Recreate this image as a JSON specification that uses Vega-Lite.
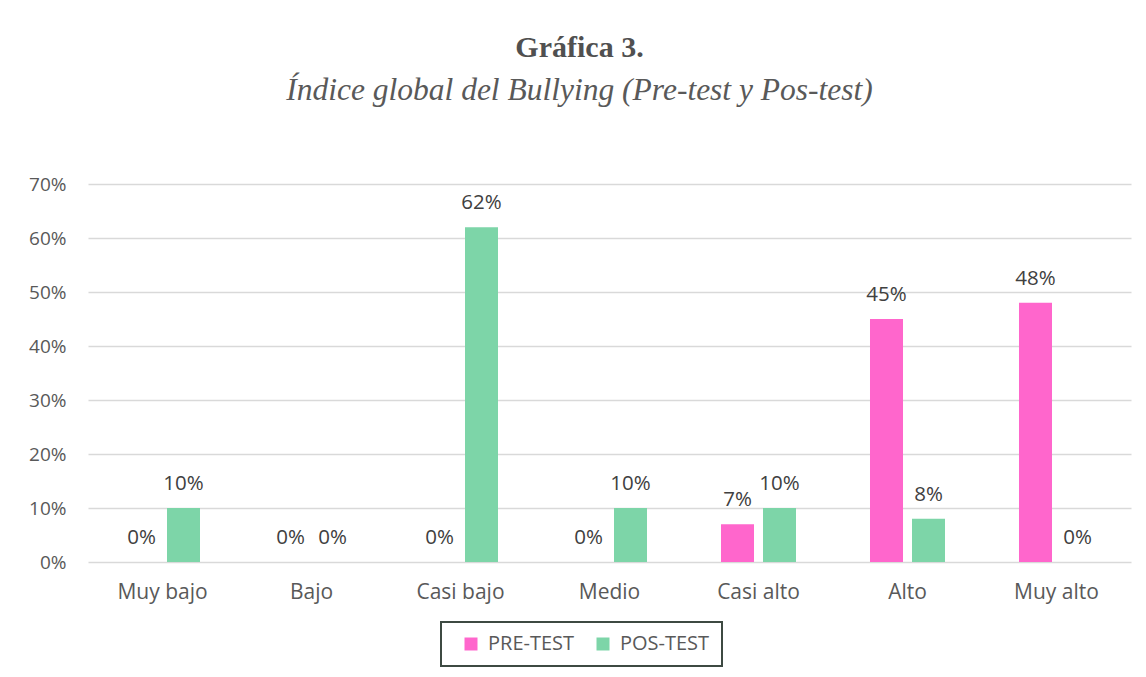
{
  "$schema": "https://vega.github.io/schema/vega-lite/v6.json",
  "width": 1043,
  "height": 378,
  "autosize": {"type": "none"},
  "padding": {"left": 88, "top": 184, "right": 15, "bottom": 115},
  "background": "white",
  "title": {
    "text": "Gráfica 3.",
    "subtitle": "Índice global del Bullying (Pre-test y Pos-test)",
    "anchor": "middle",
    "dx": -30,
    "offset": 69,
    "font": "Liberation Serif",
    "fontSize": 30,
    "fontWeight": "bold",
    "color": "#505050",
    "subtitleFont": "Liberation Serif",
    "subtitleFontSize": 31.5,
    "subtitleFontStyle": "italic",
    "subtitleColor": "#595959",
    "subtitlePadding": 12
  },
  "data": {
    "values": [
      {"categoria": "Muy bajo", "grupo": "PRE-TEST", "valor": 0},
      {"categoria": "Muy bajo", "grupo": "POS-TEST", "valor": 0.10},
      {"categoria": "Bajo", "grupo": "PRE-TEST", "valor": 0},
      {"categoria": "Bajo", "grupo": "POS-TEST", "valor": 0},
      {"categoria": "Casi bajo", "grupo": "PRE-TEST", "valor": 0},
      {"categoria": "Casi bajo", "grupo": "POS-TEST", "valor": 0.62},
      {"categoria": "Medio", "grupo": "PRE-TEST", "valor": 0},
      {"categoria": "Medio", "grupo": "POS-TEST", "valor": 0.10},
      {"categoria": "Casi alto", "grupo": "PRE-TEST", "valor": 0.07},
      {"categoria": "Casi alto", "grupo": "POS-TEST", "valor": 0.10},
      {"categoria": "Alto", "grupo": "PRE-TEST", "valor": 0.45},
      {"categoria": "Alto", "grupo": "POS-TEST", "valor": 0.08},
      {"categoria": "Muy alto", "grupo": "PRE-TEST", "valor": 0.48},
      {"categoria": "Muy alto", "grupo": "POS-TEST", "valor": 0}
    ]
  },
  "encoding": {
    "x": {
      "field": "categoria",
      "type": "nominal",
      "sort": ["Muy bajo", "Bajo", "Casi bajo", "Medio", "Casi alto", "Alto", "Muy alto"],
      "scale": {"paddingInner": 0.4966, "paddingOuter": 0.2483},
      "axis": {
        "title": null,
        "labelAngle": 0,
        "labelFont": "Open Sans",
        "labelFontSize": 21,
        "labelColor": "#595959",
        "labelPadding": 19,
        "ticks": false,
        "domain": false,
        "grid": false
      }
    },
    "xOffset": {
      "field": "grupo",
      "type": "nominal",
      "sort": ["PRE-TEST", "POS-TEST"],
      "scale": {"paddingInner": 0.2143, "paddingOuter": 0}
    },
    "y": {
      "field": "valor",
      "type": "quantitative",
      "scale": {"domain": [0, 0.7]},
      "axis": {
        "title": null,
        "format": ".0%",
        "values": [0, 0.1, 0.2, 0.3, 0.4, 0.5, 0.6, 0.7],
        "labelFont": "Open Sans",
        "labelFontSize": 19,
        "labelColor": "#595959",
        "labelPadding": 22,
        "ticks": false,
        "domain": false,
        "grid": true,
        "gridColor": "#d9d9d9",
        "gridWidth": 1.3
      }
    }
  },
  "layer": [
    {
      "mark": {"type": "bar"},
      "encoding": {
        "color": {
          "field": "grupo",
          "type": "nominal",
          "sort": ["PRE-TEST", "POS-TEST"],
          "scale": {"domain": ["PRE-TEST", "POS-TEST"], "range": ["#FF66CC", "#7DD5A8"]},
          "legend": {
            "title": null,
            "orient": "none",
            "legendX": 353,
            "legendY": 438,
            "direction": "horizontal",
            "symbolType": "square",
            "symbolSize": 169,
            "symbolStrokeWidth": 0,
            "symbolOffset": 8,
            "labelFont": "Open Sans",
            "labelFontSize": 20,
            "labelColor": "#595959",
            "labelOffset": 7,
            "columnPadding": 10,
            "padding": 12,
            "strokeColor": "#3d4a42",
            "encode": {
              "legend": {"update": {"strokeWidth": {"value": 2}}}
            }
          }
        }
      }
    },
    {
      "mark": {
        "type": "text",
        "baseline": "alphabetic",
        "dy": -18,
        "font": "Open Sans",
        "fontSize": 20.5,
        "color": "#404040"
      },
      "encoding": {
        "text": {"field": "valor", "type": "quantitative", "format": ".0%"}
      }
    }
  ],
  "config": {
    "view": {"stroke": null}
  }
}
